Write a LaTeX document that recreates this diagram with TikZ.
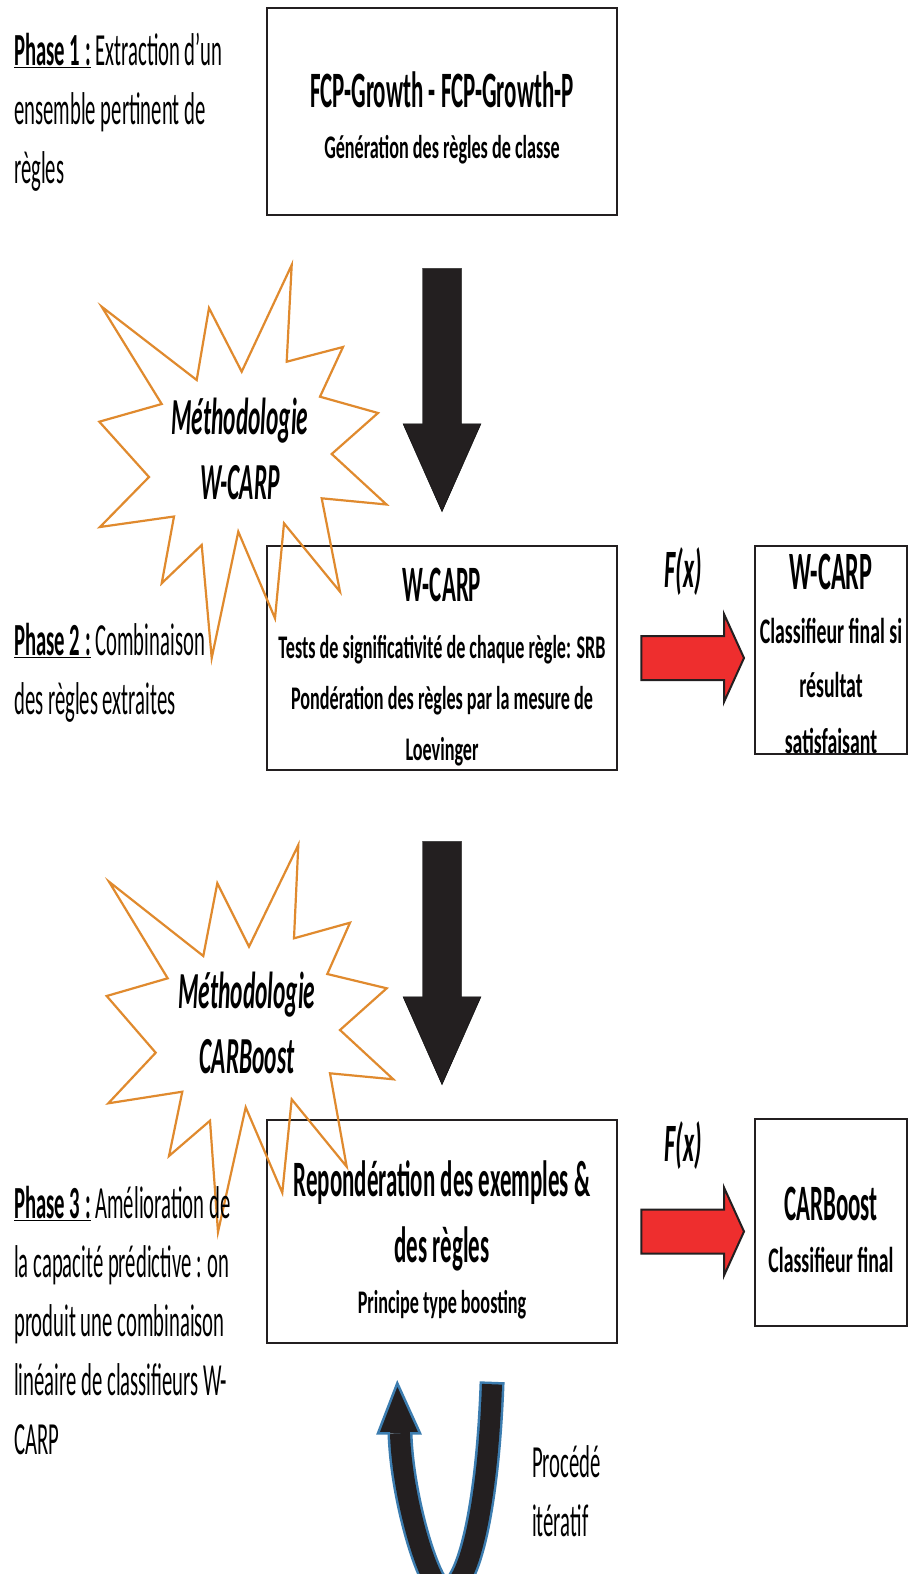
\documentclass[tikz,border=0pt]{standalone}
\usepackage{fontspec}
\setmainfont{Carlito}[FakeStretch=0.45]
\newfontfamily\subfam{Carlito}[FakeStretch=0.55]
\usepackage{xcolor}
\definecolor{cLine}{HTML}{231F20}
\definecolor{cStar}{HTML}{E08A2E}
\definecolor{cRed}{HTML}{EE2E2E}
\definecolor{cLoop}{HTML}{3C7DB0}
\usetikzlibrary{calc}
\newcommand\boxtitle{\rmfamily\bfseries\fontsize{51}{62}\selectfont}
\newcommand\boxsub{\subfam\bfseries\fontsize{33}{51}\selectfont}
\newcommand\topgap[1]{\rule{0pt}{#1}}
\tikzset{
  main-box/.style={draw=cLine,line width=2.5pt,minimum width=350pt,
    align=center,inner sep=0pt,font=\boxsub},
  res-box/.style={draw=cLine,line width=2pt,minimum width=152pt,
    minimum height=207pt,align=center,inner sep=0pt,
    font=\subfam\bfseries\fontsize{36}{54}\selectfont},
  phase-text/.style={anchor=north west,align=left,inner sep=0pt,
    font=\fontsize{46}{59}\selectfont},
  star-text/.style={align=center,inner sep=0pt,
    font=\bfseries\itshape\fontsize{52}{65}\selectfont},
  fx-text/.style={inner sep=0pt,font=\bfseries\itshape\fontsize{54}{60}\selectfont},
  star-line/.style={draw=cStar,line width=2.2pt,line join=miter},
  % fleches pleines : le corps suit l'abscisse du depart
  arrow-down/.style={fill=cLine,to path={let \p1=(\tikztostart),\p2=(\tikztotarget) in
    (\x1-19.5pt,\y1) -- (\x1+19.5pt,\y1) -- (\x1+19.5pt,\y2+88pt) -- (\x1+39pt,\y2+88pt)
    -- (\x1,\y2) -- (\x1-39pt,\y2+88pt) -- (\x1-19.5pt,\y2+88pt) -- cycle}},
  arrow-red/.style={fill=cRed,draw=cLine,line width=2pt,line join=miter,
    to path={let \p1=(\tikztostart),\p2=(\tikztotarget) in
    (\x1,\y1+22pt) -- (\x2-20pt,\y1+22pt) -- (\x2-20pt,\y1+44pt) -- (\x2,\y1)
    -- (\x2-20pt,\y1-44pt) -- (\x2-20pt,\y1-22pt) -- (\x1,\y1-22pt) -- cycle}},
  iter-edge/.style={line width=#1,line cap=butt},
}

\begin{document}
\begin{tikzpicture}[x=1pt,y=-1pt]
  \path[use as bounding box,fill=white] (0,0) rectangle (909,1574);

  \node[main-box,minimum height=207pt] (fcp) at (442,111.5)
    {{\boxtitle\topgap{48pt}FCP-Growth - FCP-Growth-P}\\ Génération des règles de classe};
  \node[main-box,minimum height=224pt] (wcarp) at (442,658)
    {{\boxtitle\topgap{51pt}W-CARP}\\[6pt] Tests de significativité de chaque règle: SRB\\
     Pondération des règles par la mesure de\\ Loevinger};
  \node[main-box,minimum height=223pt] (repond) at (442,1231.5)
    {{\boxtitle\topgap{52pt}Repondération des exemples \&}\\[15pt]{\boxtitle des règles}\\
     Principe type boosting};
  \node[res-box] (res1) at (831,650)
    {{\rmfamily\fontsize{54}{60}\selectfont\topgap{44pt}W-CARP}\\[0pt]
     Classifieur final si\\ résultat\\[2pt] satisfaisant};
  \node[res-box] (res2) at (831,1222.5)
    {{\rmfamily\fontsize{51}{60}\selectfont\topgap{49pt}CARBoost}\\[-2pt] Classifieur final};

  \draw[arrow-down] ([yshift=-52pt]fcp.south) to ([yshift=33pt]wcarp.north);
  \draw[arrow-down] ([yshift=-70pt]wcarp.south) to ([yshift=34pt]repond.north);
  \draw[arrow-red] ([xshift=23pt]wcarp.east) to ([xshift=-10pt]res1.west);
  \draw[arrow-red] ([xshift=23pt]repond.east) to ([xshift=-10pt]res2.west);
  \node[fx-text] (fx1) at (683,572) {F(x)};
  \node[fx-text] (fx2) at (683,1146) {F(x)};

  % procede iteratif
  \coordinate (iterTop) at ([xshift=50pt,yshift=-40pt]repond.south);
  \coordinate (iterHead) at ([xshift=-42pt,yshift=-89pt]repond.south);
  \draw[iter-edge=25pt,cLoop,shorten <=-2.5pt] (iterTop) .. controls (488,1500) and (470,1590)
    .. (445,1592) .. controls (430,1592) and (402,1500) .. (iterHead);
  \draw[iter-edge=20pt,cLine] (iterTop) .. controls (488,1500) and (470,1590)
    .. (445,1592) .. controls (430,1592) and (402,1500) .. (iterHead);
  \fill[cLine] (iterHead) ++(-22,0) -- ++(19.3,-50) -- ++(22.7,50) -- cycle;
  \draw[cLoop,line width=2.5pt,line join=miter] (iterHead) ++(10,0) -- ++(10,0)
    -- ++(-22.7,-50) -- ++(-19.3,50) -- ++(12,0);
  \node[phase-text] (iter) at (532,1445) {Procédé\\itératif};

  % etoiles
  \draw[star-line] (291.7,265) -- (286.7,361.7) -- (343,347) -- (320,396.7) -- (378,413)
    -- (331.7,454) -- (386.5,504.5) -- (321.7,498.3) -- (340,591.7) -- (284,523.3)
    -- (275,618.3) -- (238.3,531.7) -- (211.7,658) -- (201.7,545) -- (161.7,583.3)
    -- (174,516.5) -- (100,527) -- (149,477) -- (99.3,421.7) -- (161.7,404)
    -- (101.7,306.7) -- (196.7,380) -- (209,308) -- (241.7,371.7) -- cycle;
  \draw[star-line] (298.3,845) -- (294,938.3) -- (350,922.7) -- (327.3,974) -- (386.7,988.3)
    -- (340,1030) -- (393.3,1079.3) -- (330,1073.3) -- (346.7,1166.7) -- (291.7,1099.3)
    -- (282.3,1192.7) -- (245.7,1107.3) -- (218,1232) -- (210,1120.7) -- (169,1156)
    -- (182.3,1091.7) -- (108.3,1103.3) -- (155.7,1052.7) -- (106.7,996) -- (167.7,978.3)
    -- (109,881.7) -- (203.3,956) -- (217.3,883.3) -- (249,946.7) -- cycle;
  \node[star-text] (meth1) at (240,449) {Méthodologie\\W-CARP};
  \node[star-text] (meth2) at (247,1023) {Méthodologie\\CARBoost};

  \node[phase-text] (ph1) at (14,33)
    {\underline{\textbf{Phase 1 :}} Extraction d’un\\ensemble pertinent de\\règles};
  \node[phase-text] (ph2) at (14,623)
    {\underline{\textbf{Phase 2 :}} Combinaison\\des règles extraites};
  \node[phase-text] (ph3) at (14,1186)
    {\underline{\textbf{Phase 3 :}} Amélioration de\\la capacité prédictive : on\\
     produit une combinaison\\linéaire de classifieurs W-\\CARP};
\end{tikzpicture}
\end{document}
